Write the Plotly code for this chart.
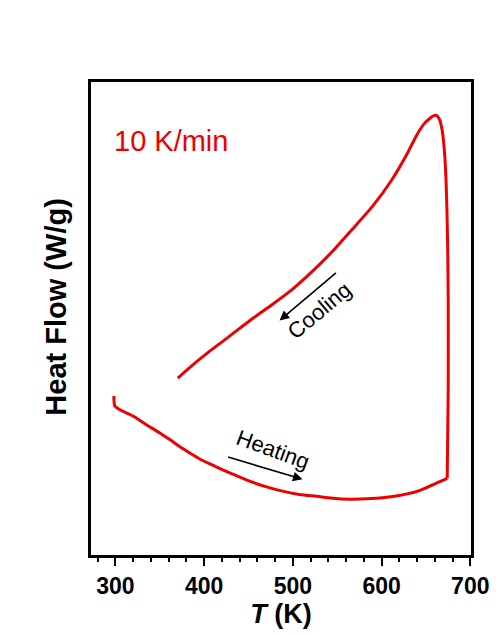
import plotly.graph_objects as go

# Heating branch (T in K, heat flow in arbitrary units)
T_heat = [298.3, 299.4, 305.1, 319.7, 335.4, 350.1, 361.3, 375.9, 395.1, 414.2,
          432.2, 451.3, 470.4, 488.4, 507.5, 526.7, 544.7, 563.8, 582.9, 600.9,
          620.0, 639.1, 657.2, 674.0]
HF_heat = [3.36, 3.15, 3.07, 2.94, 2.75, 2.58, 2.44, 2.25, 2.03, 1.86,
           1.71, 1.56, 1.44, 1.35, 1.28, 1.24, 1.20, 1.18, 1.19, 1.21,
           1.26, 1.34, 1.48, 1.62]

# Cooling branch (starts at the end of heating, vertical jump then cooling)
T_cool = [674.0, 675.1, 675.1, 674.6, 673.8, 672.6, 670.7, 668.4, 665.5, 662.3,
          659.0, 655.0, 648.1, 639.1, 627.9, 612.2, 589.7, 567.2, 544.7, 522.2,
          499.7, 477.2, 454.7, 440.0, 425.4, 406.3, 387.2, 370.3]
HF_cool = [1.62, 3.47, 5.42, 6.40, 7.20, 7.95, 8.57, 8.97, 9.20, 9.29,
           9.29, 9.24, 9.12, 8.86, 8.45, 7.95, 7.37, 6.89, 6.42, 6.00,
           5.62, 5.30, 5.00, 4.79, 4.58, 4.31, 4.02, 3.74]

x_ticks = [300, 400, 500, 600, 700]
rate_label = "10 K/min"

RED = "#ee0000"
fig = go.Figure()
fig.add_trace(go.Scatter(x=T_heat, y=HF_heat, mode="lines",
                         line=dict(color=RED, width=3, shape="spline", smoothing=0.8),
                         showlegend=False))
fig.add_trace(go.Scatter(x=T_cool, y=HF_cool, mode="lines",
                         line=dict(color=RED, width=3, shape="spline", smoothing=0.5),
                         showlegend=False))

FONT = "Liberation Sans, Arial, sans-serif"
annotations = [
    dict(text=rate_label, x=0.056, y=0.875, xref="paper", yref="paper",
         xanchor="left", yanchor="middle", showarrow=False,
         font=dict(family=FONT, size=29, color=RED)),
    dict(text="Heating", x=477.2, y=2.23, xref="x", yref="y", showarrow=False,
         textangle=20, font=dict(family=FONT, size=22, color="black")),
    dict(text="Cooling", x=530.0, y=5.17, xref="x", yref="y", showarrow=False,
         textangle=-40, font=dict(family=FONT, size=22, color="black")),
    dict(text="", x=510.9, y=1.60, ax=425.4, ay=2.08, xref="x", yref="y",
         axref="x", ayref="y", showarrow=True, arrowhead=2, arrowsize=1.2,
         arrowwidth=1.6, arrowcolor="black"),
    dict(text="", x=485.0, y=4.96, ax=550.3, ay=5.99, xref="x", yref="y",
         axref="x", ayref="y", showarrow=True, arrowhead=2, arrowsize=1.2,
         arrowwidth=1.6, arrowcolor="black"),
    dict(text="<b>Heat Flow (W/g)</b>", x=-0.092, y=0.523, xref="paper", yref="paper",
         showarrow=False, textangle=-90, xanchor="center", yanchor="middle",
         font=dict(family=FONT, size=29, color="black")),
]

fig.update_layout(
    width=501, height=635,
    margin=dict(l=91, r=29, t=82, b=77),
    paper_bgcolor="white", plot_bgcolor="white",
    annotations=annotations,
    xaxis=dict(range=[272.5, 700.8], tickvals=x_ticks,
               ticks="outside", ticklen=8, tickwidth=2, tickcolor="black",
               minor=dict(dtick=20, tick0=300, ticks="outside", ticklen=4,
                          tickwidth=2, tickcolor="black"),
               showline=True, linewidth=3, linecolor="black", mirror=True,
               showgrid=False, zeroline=False,
               tickfont=dict(family=FONT, size=23, color="black", weight="bold"),
               title=dict(text="<b><i>T</i> (K)</b>", standoff=6,
                          font=dict(family=FONT, size=27, color="black"))),
    yaxis=dict(range=[0, 10], showticklabels=False, ticks="",
               showline=True, linewidth=3, linecolor="black", mirror=True,
               showgrid=False, zeroline=False),
)

fig.write_html("out.html")
